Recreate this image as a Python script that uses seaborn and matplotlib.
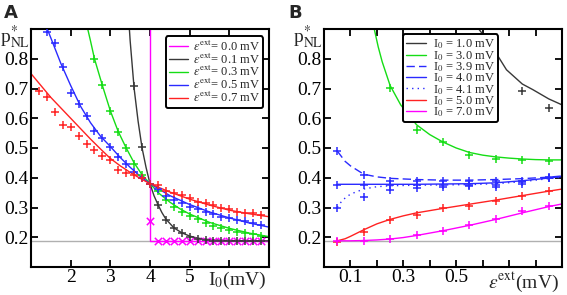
import numpy as np
import pandas as pd
import matplotlib
matplotlib.use("Agg")
import matplotlib.pyplot as plt
import seaborn as sns
from matplotlib.lines import Line2D

# ---------------- Panel A data (x = I0 in mV) ----------------
epsA_labels = ["0.0", "0.1", "0.3", "0.5", "0.7"]
colorsA = ["#ff00ff", "#383838", "#15dd15", "#2a2aff", "#ff2222"]

# model curves
a0_cx = [4.0, 4.0, 7.0]
a0_cy = [1.0, 0.188, 0.188]
a1_cx = [3.45, 3.5, 3.6, 3.7, 3.8, 3.9, 4.0, 4.1, 4.2, 4.3, 4.4, 4.6, 4.8, 5.0, 5.2, 5.5, 6.0, 6.5, 7.0]
a1_cy = [0.96, 0.86, 0.70, 0.59, 0.50, 0.435, 0.38, 0.34, 0.31, 0.283, 0.261, 0.232, 0.215, 0.204, 0.197, 0.192, 0.189, 0.188, 0.188]
a3_cx = [2.43, 2.5, 2.6, 2.8, 3.0, 3.2, 3.4, 3.6, 3.8, 4.0, 4.25, 4.5, 4.75, 5.0, 5.5, 6.0, 6.5, 7.0]
a3_cy = [0.90, 0.86, 0.80, 0.71, 0.625, 0.555, 0.50, 0.45, 0.41, 0.38, 0.345, 0.318, 0.296, 0.278, 0.25, 0.23, 0.214, 0.202]
a5_cx = [1.35, 1.5, 1.75, 2.0, 2.25, 2.5, 2.75, 3.0, 3.25, 3.5, 3.75, 4.0, 4.5, 5.0, 5.5, 6.0, 6.5, 7.0]
a5_cy = [0.92, 0.87, 0.785, 0.71, 0.64, 0.585, 0.54, 0.505, 0.468, 0.435, 0.405, 0.38, 0.34, 0.31, 0.285, 0.265, 0.248, 0.234]
a7_cx = [1.0, 1.25, 1.5, 1.75, 2.0, 2.25, 2.5, 2.75, 3.0, 3.25, 3.5, 3.75, 4.0, 4.5, 5.0, 5.5, 6.0, 6.5, 7.0]
a7_cy = [0.75, 0.71, 0.67, 0.635, 0.60, 0.565, 0.53, 0.497, 0.465, 0.44, 0.418, 0.398, 0.38, 0.352, 0.328, 0.308, 0.291, 0.279, 0.269]

# simulation points
a0_px = [4.0, 4.2, 4.4, 4.6, 4.8, 5.0, 5.2, 5.4, 5.6, 5.8, 6.0, 6.2, 6.4, 6.6, 6.8]
a0_py = [0.255, 0.187, 0.187, 0.187, 0.187, 0.187, 0.187, 0.187, 0.187, 0.187, 0.187, 0.187, 0.187, 0.187, 0.187]
a1_px = [3.6, 3.8, 4.0, 4.2, 4.4, 4.6, 4.8, 5.0, 5.2, 5.4, 5.6, 5.8, 6.0, 6.2, 6.4, 6.6, 6.8]
a1_py = [0.709, 0.505, 0.38, 0.309, 0.258, 0.23, 0.213, 0.202, 0.194, 0.191, 0.189, 0.188, 0.188, 0.188, 0.188, 0.188, 0.188]
a3_px = [2.6, 2.8, 3.0, 3.2, 3.4, 3.6, 3.8, 4.0, 4.2, 4.4, 4.6, 4.8, 5.0, 5.2, 5.4, 5.6, 5.8, 6.0, 6.2, 6.4, 6.6, 6.8]
a3_py = [0.80, 0.713, 0.625, 0.553, 0.50, 0.447, 0.41, 0.38, 0.354, 0.326, 0.303, 0.286, 0.272, 0.261, 0.249, 0.238, 0.23, 0.225, 0.219, 0.213, 0.21, 0.205]
a5_px = [1.4, 1.6, 1.8, 2.0, 2.2, 2.4, 2.6, 2.8, 3.0, 3.2, 3.4, 3.6, 3.8, 4.0, 4.2, 4.4, 4.6, 4.8, 5.0, 5.2, 5.4, 5.6, 5.8, 6.0, 6.2, 6.4, 6.6, 6.8]
a5_py = [0.89, 0.853, 0.772, 0.685, 0.649, 0.606, 0.556, 0.533, 0.505, 0.47, 0.445, 0.42, 0.40, 0.38, 0.362, 0.339, 0.326, 0.314, 0.303, 0.294, 0.286, 0.277, 0.269, 0.264, 0.258, 0.253, 0.247, 0.241]
a7_px = [1.2, 1.4, 1.6, 1.8, 2.0, 2.2, 2.4, 2.6, 2.8, 3.0, 3.2, 3.4, 3.6, 3.8, 4.0, 4.2, 4.4, 4.6, 4.8, 5.0, 5.2, 5.4, 5.6, 5.8, 6.0, 6.2, 6.4, 6.6, 6.8]
a7_py = [0.69, 0.671, 0.622, 0.576, 0.572, 0.541, 0.512, 0.492, 0.472, 0.458, 0.427, 0.417, 0.408, 0.399, 0.38, 0.376, 0.354, 0.348, 0.342, 0.331, 0.318, 0.314, 0.308, 0.299, 0.296, 0.285, 0.282, 0.28, 0.276]

# ---------------- Panel B data (x = eps_ext in mV) ----------------
I0_labels = ["1.0", "3.0", "3.9", "4.0", "4.1", "5.0", "7.0"]
colorsB = ["#383838", "#15dd15", "#2a2aff", "#2a2aff", "#2a2aff", "#ff2222", "#ff00ff"]
stylesB = ["-", "-", (0, (6, 3)), "-", (0, (1, 3)), "-", "-"]

b10_cx = [0.585, 0.62, 0.65, 0.69, 0.75, 0.79, 0.85, 0.9]
b10_cy = [0.90, 0.86, 0.82, 0.763, 0.715, 0.696, 0.665, 0.645]
b30_cx = [0.19, 0.205, 0.22, 0.25, 0.29, 0.35, 0.4, 0.45, 0.5, 0.55, 0.6, 0.65, 0.7, 0.75, 0.8, 0.85, 0.9]
b30_cy = [0.90, 0.84, 0.79, 0.71, 0.645, 0.578, 0.545, 0.52, 0.50, 0.485, 0.476, 0.47, 0.466, 0.463, 0.461, 0.46, 0.46]
b39_cx = [0.05, 0.08, 0.1, 0.15, 0.2, 0.25, 0.35, 0.45, 0.55, 0.65, 0.75, 0.85, 0.9]
b39_cy = [0.49, 0.455, 0.44, 0.412, 0.403, 0.398, 0.394, 0.392, 0.392, 0.394, 0.397, 0.402, 0.406]
b40_cx = [0.05, 0.15, 0.25, 0.35, 0.45, 0.55, 0.65, 0.75, 0.85, 0.9]
b40_cy = [0.378, 0.378, 0.378, 0.378, 0.379, 0.38, 0.383, 0.39, 0.399, 0.404]
b41_cx = [0.05, 0.07, 0.1, 0.15, 0.2, 0.25, 0.35, 0.45, 0.55, 0.65, 0.75, 0.85, 0.9]
b41_cy = [0.30, 0.325, 0.345, 0.362, 0.37, 0.373, 0.375, 0.376, 0.377, 0.38, 0.387, 0.397, 0.402]
b50_cx = [0.05, 0.08, 0.1, 0.15, 0.2, 0.25, 0.3, 0.35, 0.45, 0.55, 0.65, 0.75, 0.85, 0.9]
b50_cy = [0.188, 0.195, 0.203, 0.225, 0.245, 0.26, 0.272, 0.282, 0.297, 0.311, 0.325, 0.34, 0.355, 0.362]
b70_cx = [0.05, 0.1, 0.15, 0.2, 0.25, 0.3, 0.35, 0.45, 0.55, 0.65, 0.75, 0.85, 0.9]
b70_cy = [0.188, 0.188, 0.189, 0.191, 0.194, 0.199, 0.206, 0.222, 0.24, 0.26, 0.282, 0.303, 0.312]

b10_px = [0.75, 0.85]
b10_py = [0.69, 0.634]
b30_px = [0.25, 0.35, 0.45, 0.55, 0.65, 0.75, 0.85]
b30_py = [0.702, 0.56, 0.519, 0.477, 0.463, 0.458, 0.455]
eps_pts = [0.05, 0.15, 0.25, 0.35, 0.45, 0.55, 0.65, 0.75, 0.85]
b39_py = [0.49, 0.408, 0.39, 0.39, 0.388, 0.39, 0.388, 0.39, 0.402]
b40_py = [0.375, 0.375, 0.375, 0.375, 0.375, 0.377, 0.377, 0.385, 0.40]
b41_py = [0.298, 0.336, 0.36, 0.365, 0.37, 0.372, 0.37, 0.378, 0.398]
b50_py = [0.185, 0.219, 0.258, 0.275, 0.297, 0.306, 0.323, 0.337, 0.354]
b70_py = [0.186, 0.186, 0.193, 0.208, 0.222, 0.241, 0.262, 0.288, 0.306]

p_floor = 0.188

# ---------------- styling ----------------
sns.set_style("ticks")
plt.rcParams["font.family"] = ["Liberation Serif", "DejaVu Serif"]
plt.rcParams["mathtext.fontset"] = "stix"

fig = plt.figure(figsize=(5.67, 2.95), dpi=100)
axA = fig.add_axes([31 / 567, 28 / 295, 238 / 567, 238 / 295])
axB = fig.add_axes([324 / 567, 28 / 295, 238 / 567, 238 / 295])

LW = 1.0


def curve(ax, x, y, color, ls="-"):
    sns.lineplot(x=x, y=y, ax=ax, color=color, lw=LW, linestyle=ls,
                 sort=False, estimator=None, legend=False)


def points(ax, x, y, color, marker="+"):
    sns.scatterplot(x=x, y=y, ax=ax, color=color, marker=marker, s=28,
                    linewidth=1.1, legend=False, zorder=3)


# Panel A
axA.axhline(p_floor, color="#b0b0b0", lw=1.0, zorder=0)
curvesA = [(a0_cx, a0_cy), (a1_cx, a1_cy), (a3_cx, a3_cy), (a5_cx, a5_cy), (a7_cx, a7_cy)]
ptsA = [(a0_px, a0_py), (a1_px, a1_py), (a3_px, a3_py), (a5_px, a5_py), (a7_px, a7_py)]
for (cx, cy), c in zip(curvesA, colorsA):
    curve(axA, cx, cy, c)
for i, ((px, py), c) in enumerate(zip(ptsA, colorsA)):
    points(axA, px, py, c, marker="x" if i == 0 else "+")

# Panel B
axB.axhline(p_floor, color="#b0b0b0", lw=1.0, zorder=0)
curvesB = [(b10_cx, b10_cy), (b30_cx, b30_cy), (b39_cx, b39_cy), (b40_cx, b40_cy),
           (b41_cx, b41_cy), (b50_cx, b50_cy), (b70_cx, b70_cy)]
ptsB = [(b10_px, b10_py), (b30_px, b30_py), (eps_pts, b39_py), (eps_pts, b40_py),
        (eps_pts, b41_py), (eps_pts, b50_py), (eps_pts, b70_py)]
for (cx, cy), c, ls in zip(curvesB, colorsB, stylesB):
    curve(axB, cx, cy, c, ls)
for (px, py), c in zip(ptsB, colorsB):
    points(axB, px, py, c)

# axes formatting
for ax in (axA, axB):
    ax.set_ylim(0.1, 0.9)
    ax.set_yticks([0.2, 0.3, 0.4, 0.5, 0.6, 0.7, 0.8])
    ax.set_yticklabels(["0.2", "0.3", "0.4", "0.5", "0.6", "0.7", "0.8"])
    ax.tick_params(direction="in", length=5, width=1.3, top=True, right=True,
                   labelsize=14, pad=2, colors="black")
    ax.tick_params(axis="x", pad=1.5)
    for s in ax.spines.values():
        s.set_linewidth(1.5)
        s.set_color("black")
    ax.set_xlabel("")
    ax.set_ylabel("")
    ax.text(-0.005, 0.965, r"p$^{*}_{\rm NL}$", transform=ax.transAxes,
            fontsize=14, ha="right", va="center")

axA.set_xlim(1, 7)
axA.set_xticks([2, 3, 4, 5, 6])
axA.set_xticklabels(["2", "3", "4", "5", ""])
axA.text(6.2, -0.012, r"I$_0$(mV)", transform=axA.get_xaxis_transform(),
         fontsize=14, ha="center", va="top")

axB.set_xlim(0, 0.9)
axB.set_xticks([0.1, 0.2, 0.3, 0.4, 0.5, 0.6, 0.7, 0.8])
axB.set_xticklabels(["0.1", "", "0.3", "", "0.5", "", "", ""])
axB.text(0.755, -0.012, r"$\varepsilon^{\rm ext}$(mV)", transform=axB.get_xaxis_transform(),
         fontsize=14, ha="center", va="top")

# legends
hA = [Line2D([], [], color=c, lw=LW) for c in colorsA]
lA = [r"$\varepsilon^{\rm ext}$= %s mV" % s for s in epsA_labels]
legA = axA.legend(hA, lA, loc="upper right", bbox_to_anchor=(0.975, 0.97),
                  borderaxespad=0, fontsize=9, labelspacing=-0.12, handlelength=1.5,
                  handletextpad=0.4, borderpad=0.25, fancybox=True, framealpha=1)
legA.get_frame().set_edgecolor("black")
legA.get_frame().set_linewidth(1.4)

hB = [Line2D([], [], color=c, lw=LW, linestyle=ls) for c, ls in zip(colorsB, stylesB)]
lB = [r"I$_0$ = %s mV" % s for s in I0_labels]
legB = axB.legend(hB, lB, loc="upper left", bbox_to_anchor=(0.33, 0.977),
                  borderaxespad=0, fontsize=9, labelspacing=-0.2, handlelength=1.6,
                  handletextpad=0.6, borderpad=0.25, fancybox=True, framealpha=1)
legB.get_frame().set_edgecolor("black")
legB.get_frame().set_linewidth(1.4)

fig.text(4 / 567, 1 - 13 / 295, "A", fontsize=13, fontweight="bold",
         family="DejaVu Sans", ha="left", va="center")
fig.text(288 / 567, 1 - 13 / 295, "B", fontsize=13, fontweight="bold",
         family="DejaVu Sans", ha="left", va="center")

fig.savefig("out.png", dpi=100)
